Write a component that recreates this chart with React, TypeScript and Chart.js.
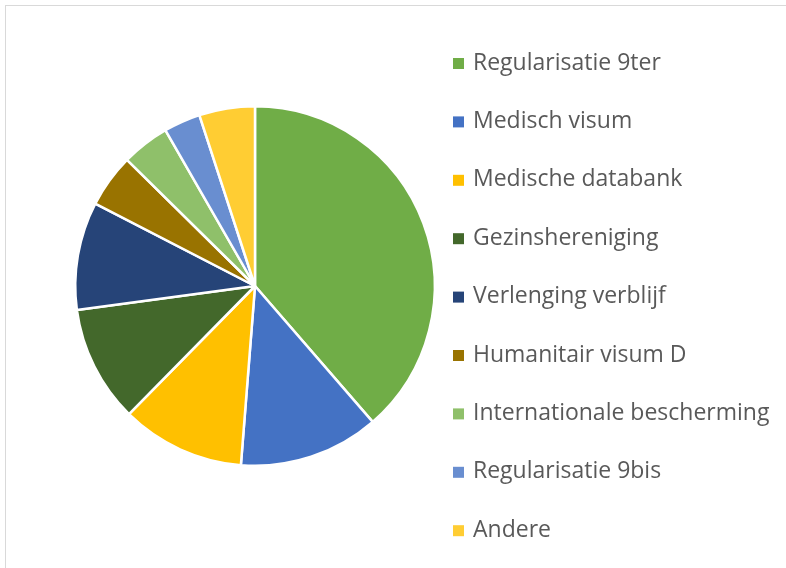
import React, { useEffect, useRef } from "react";
import { Chart, registerables } from "chart.js";

Chart.register(...registerables);

const categories = [
  "Regularisatie 9ter",
  "Medisch visum",
  "Medische databank",
  "Gezinshereniging",
  "Verlenging verblijf",
  "Humanitair visum D",
  "Internationale bescherming",
  "Regularisatie 9bis",
  "Andere",
];
const shares = [38.6, 12.6, 11.1, 10.5, 9.7, 4.8, 4.3, 3.3, 5.0];
const colors = [
  "#70AD47",
  "#4472C4",
  "#FFC000",
  "#43682B",
  "#264478",
  "#997300",
  "#8FC06A",
  "#698ED0",
  "#FFCD33",
];

const legendPlugin = {
  id: "sideLegend",
  afterDraw(chart: any) {
    const ctx = chart.ctx;
    const labels = chart.data.labels as string[];
    const bg = chart.data.datasets[0].backgroundColor as string[];
    ctx.save();
    ctx.font = '23px "Open Sans"';
    ctx.textBaseline = "middle";
    labels.forEach((l, i) => {
      const y = 63 + i * 58.4;
      ctx.fillStyle = bg[i];
      ctx.fillRect(453, y - 5, 11, 11);
      ctx.fillStyle = "#595959";
      ctx.fillText(l, 473, y);
    });
    ctx.restore();
  },
};

export default function App() {
  const ref = useRef<HTMLCanvasElement>(null);
  useEffect(() => {
    if (!ref.current) return;
    const chart = new Chart(ref.current, {
      type: "pie",
      data: {
        labels: categories,
        datasets: [
          {
            data: shares,
            backgroundColor: colors,
            borderColor: "#ffffff",
            borderWidth: 2.5,
          },
        ],
      },
      options: {
        animation: false,
        responsive: false,
        layout: { padding: { left: 74, top: 105, right: 350, bottom: 101 } },
        plugins: {
          legend: { display: false },
          tooltip: { enabled: false },
        },
      },
      plugins: [legendPlugin],
    });
    return () => chart.destroy();
  }, []);
  return (
    <div
      style={{
        position: "fixed",
        left: 0,
        top: 0,
        width: 786,
        height: 568,
        overflow: "hidden",
        background: "#fff",
      }}
    >
      <div
        style={{
          position: "absolute",
          left: 5,
          top: 5,
          width: 900,
          height: 700,
          border: "1.5px solid #d9d9d9",
        }}
      />
      <canvas
        ref={ref}
        width={786}
        height={568}
        style={{ position: "absolute", left: 0, top: 0 }}
      />
    </div>
  );
}
